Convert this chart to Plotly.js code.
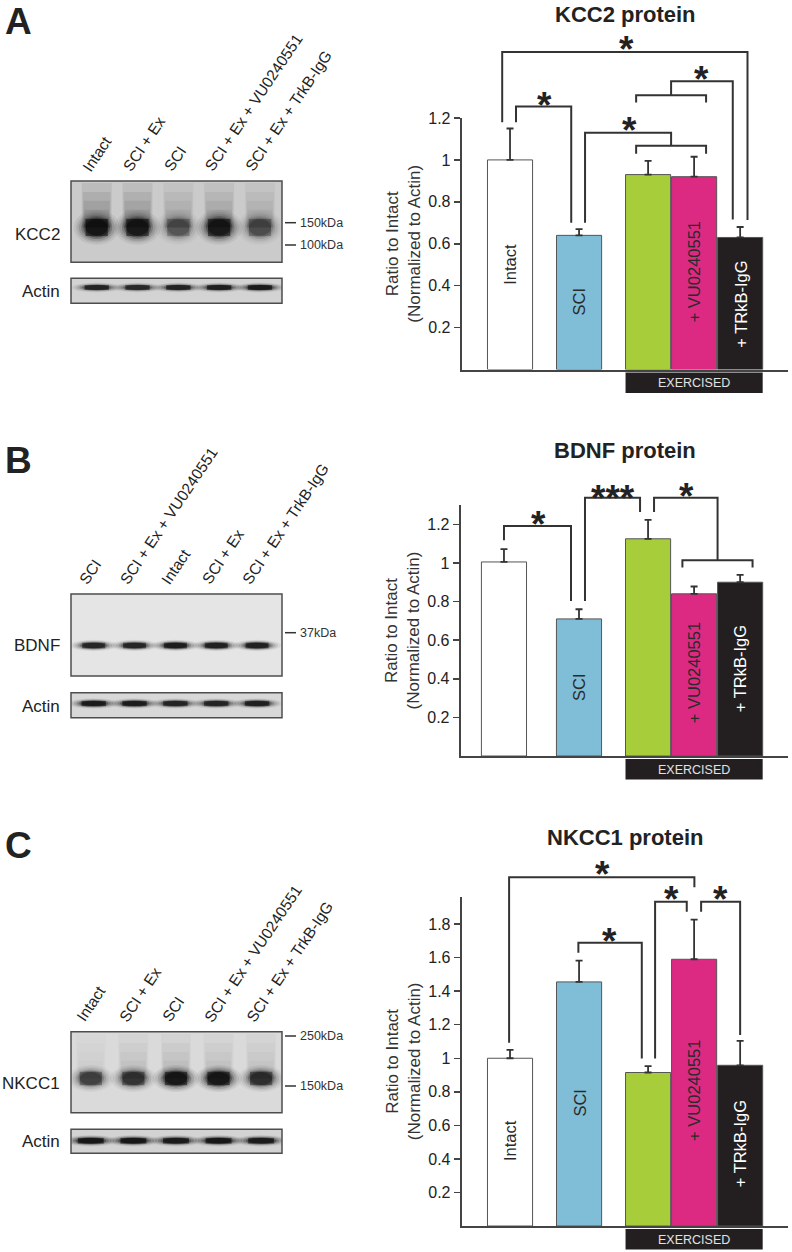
<!DOCTYPE html>
<html><head><meta charset="utf-8">
<script src="https://cdn.plot.ly/plotly-3.0.1.min.js"></script>
<style>html,body{margin:0;padding:0;background:#fff}#chart{width:792px;height:1252px}</style>
</head><body><div id="chart"></div>
<script>
// ---------------- DATA ----------------
const groups = ['Intact', 'SCI', 'SCI + Ex', 'SCI + Ex + VU0240551', 'SCI + Ex + TrkB-IgG'];
const barInnerLabels = ['Intact', 'SCI', '', '+ VU0240551', '+ TRkB-IgG'];
const barColors = ['#ffffff', '#80bdd6', '#a7cd3a', '#dc2a83', '#231f20'];

const kcc2Mean  = [1.00, 0.64, 0.93, 0.92, 0.63];
const kcc2Sem   = [0.15, 0.03, 0.065, 0.095, 0.05];
const bdnfMean  = [1.005, 0.71, 1.125, 0.84, 0.90];
const bdnfSem   = [0.066, 0.05, 0.098, 0.038, 0.038];
const nkcc1Mean = [1.00, 1.455, 0.915, 1.59, 0.958];
const nkcc1Sem  = [0.05, 0.127, 0.038, 0.236, 0.145];

const tickValsAB = [0.2, 0.4, 0.6, 0.8, 1.0, 1.2];
const tickTextAB = ['0.2', '0.4', '0.6', '0.8', '1', '1.2'];
const tickValsC  = [0.2, 0.4, 0.6, 0.8, 1.0, 1.2, 1.4, 1.6, 1.8];
const tickTextC  = ['0.2', '0.4', '0.6', '0.8', '1', '1.2', '1.4', '1.6', '1.8'];

// bar slots (x positions on the category axis)
const barPosA = [0, 1.5, 3, 4, 5];
const barPosB = [-0.13, 1.5, 3, 4, 5];
const barPosC = [0, 1.5, 3, 4, 5];

// where the rotated group names sit inside the bars (data units)
const labelYA = [0.50, 0.325, null, 0.464, 0.31];
const labelYB = [null, 0.358, null, 0.429, 0.45];
const labelYC = [0.507, 0.736, null, 0.806, 0.488];

// significance brackets: polylines [x, y] in data units
const bracketsA = [
  [[-0.17, 1.18], [-0.17, 1.515], [5.16, 1.515], [5.16, 0.713]],
  [[0.13, 1.18], [0.13, 1.255], [1.33, 1.255], [1.33, 0.70]],
  [[1.63, 0.70], [1.63, 1.13], [3.5, 1.13], [3.5, 1.067]],
  [[2.74, 1.029], [2.74, 1.067], [4.26, 1.067], [4.26, 1.029]],
  [[2.74, 1.274], [2.74, 1.308], [4.26, 1.308], [4.26, 1.274]],
  [[3.5, 1.308], [3.5, 1.375], [4.84, 1.375], [4.84, 0.716]]
];
const starsA = [[2.52, 1.565, '*'], [0.74, 1.30, '*'], [2.59, 1.177, '*'], [4.17, 1.42, '*']];

const bracketsB = [
  [[-0.13, 1.117], [-0.13, 1.191], [1.326, 1.191], [1.326, 0.803]],
  [[1.63, 0.803], [1.63, 1.338], [2.826, 1.338], [2.826, 1.264]],
  [[3.13, 1.264], [3.13, 1.338], [4.51, 1.338], [4.51, 1.014]],
  [[3.746, 0.976], [3.746, 1.014], [5.27, 1.014], [5.27, 0.976]]
];
const starsB = [[0.615, 1.238, '*'], [2.245, 1.376, '***'], [3.84, 1.385, '*']];

const bracketsC = [
  [[-0.02, 1.092], [-0.02, 2.079], [4.006, 2.079], [4.006, 2.019]],
  [[1.485, 1.629], [1.485, 1.689], [2.863, 1.689], [2.863, 0.999]],
  [[3.152, 0.999], [3.152, 1.933], [3.84, 1.933], [3.84, 1.874]],
  [[4.152, 1.874], [4.152, 1.933], [5.0, 1.933], [5.0, 1.138]]
];
const starsC = [[2.0, 2.142, '*'], [2.17, 1.745, '*'], [3.515, 1.993, '*'], [4.58, 1.993, '*']];

// western blot lanes
const lanesA = ['Intact', 'SCI + Ex', 'SCI', 'SCI + Ex + VU0240551', 'SCI + Ex + TrkB-IgG'];
const lanesB = ['SCI', 'SCI + Ex + VU0240551', 'Intact', 'SCI + Ex', 'SCI + Ex + TrkB-IgG'];
const lanesC = ['Intact', 'SCI + Ex', 'SCI', 'SCI + Ex + VU0240551', 'SCI + Ex + TrkB-IgG'];

// relative band darkness per lane
const kcc2Band   = [1.0, 0.95, 0.45, 0.95, 0.5];
const kcc2Smear  = [0.70, 0.65, 0.45, 0.50, 0.40];
const actinBandA = [0.85, 0.8, 0.85, 0.9, 0.95];
const bdnfBand   = [0.85, 0.85, 0.95, 0.9, 0.9];
const actinBandB = [0.95, 0.95, 0.85, 0.85, 0.9];
const nkcc1Band  = [0.6, 0.7, 1.0, 1.0, 0.75];
const nkcc1Smear = [0.12, 0.28, 0.32, 0.28, 0.22];
const actinBandC = [1.0, 1.0, 0.95, 1.0, 0.95];

// ---------------- LAYOUT HELPERS ----------------
const FONT = 'Liberation Sans, Arial, Helvetica, sans-serif';
const W = 792, H = 1252;
const fx = p => p / W;
const fy = p => 1 - p / H;
const axName = id => id.replace(/^x/, 'xaxis').replace(/^y/, 'yaxis');

const traces = [];
const shapes = [];
const annotations = [];
const layout = {
  width: W, height: H, margin: {l: 0, r: 0, t: 0, b: 0},
  paper_bgcolor: '#ffffff', plot_bgcolor: 'rgba(0,0,0,0)',
  showlegend: false, font: {family: FONT, color: '#222'},
  bargap: 0
};

const panels = [
  {xa: 'x', ya: 'y', xPx: [461.7, 788], yPx: [369.5, 118], xRange: [-1.05, 6.04], yMax: 1.2,
   tv: tickValsAB, tt: tickTextAB, mean: kcc2Mean, sem: kcc2Sem, pos: barPosA, labelY: labelYA,
   brackets: bracketsA, stars: starsA, title: 'KCC2 protein', titleY: 14.5, letter: 'A', letterY: 21.5},
  {xa: 'x2', ya: 'y2', xPx: [460.7, 788], yPx: [756, 505], xRange: [-1.07, 6.04], yMax: 1.3,
   tv: tickValsAB, tt: tickTextAB, mean: bdnfMean, sem: bdnfSem, pos: barPosB, labelY: labelYB,
   brackets: bracketsB, stars: starsB, title: 'BDNF protein', titleY: 450.8, letter: 'B', letterY: 460},
  {xa: 'x3', ya: 'y3', xPx: [461.7, 788], yPx: [1226, 896.7], xRange: [-1.05, 6.04], yMax: 1.963,
   tv: tickValsC, tt: tickTextC, mean: nkcc1Mean, sem: nkcc1Sem, pos: barPosC, labelY: labelYC,
   brackets: bracketsC, stars: starsC, title: 'NKCC1 protein', titleY: 837.5, letter: 'C', letterY: 845.5}
];

panels.forEach(p => {
  traces.push({
    type: 'bar', x: p.pos, y: p.mean, xaxis: p.xa, yaxis: p.ya, width: 0.98,
    marker: {color: barColors, line: {color: '#555', width: 1}},
    error_y: {type: 'data', symmetric: false, array: p.sem, arrayminus: p.sem.map(() => 0),
              color: '#333', thickness: 1.8, width: 3.5},
    hoverinfo: 'skip'
  });
  layout[axName(p.xa)] = {
    domain: [fx(p.xPx[0]), fx(p.xPx[1])], range: p.xRange, anchor: p.ya,
    showline: true, linecolor: '#444', linewidth: 2, showticklabels: false, ticks: '',
    showgrid: false, zeroline: false, fixedrange: true
  };
  layout[axName(p.ya)] = {
    domain: [fy(p.yPx[0]), fy(p.yPx[1])], range: [0, p.yMax], anchor: p.xa,
    showline: true, linecolor: '#444', linewidth: 2, ticks: 'outside', ticklen: 6,
    tickwidth: 1.5, tickcolor: '#444', tickvals: p.tv, ticktext: p.tt,
    tickfont: {size: 16, color: '#222', family: FONT},
    showgrid: false, zeroline: false, fixedrange: true,
    title: {text: 'Ratio to Intact<br>(Normalized to Actin)', font: {size: 17, color: '#333', family: FONT}, standoff: 3}
  };
  const dref = p.ya + ' domain';
  p.brackets.forEach(b => {
    shapes.push({type: 'path', xref: p.xa, yref: dref,
      path: 'M' + b.map(pt => pt[0] + ',' + (pt[1] / p.yMax)).join('L'),
      line: {color: '#333', width: 2}});
  });
  p.stars.forEach(s => {
    annotations.push({xref: p.xa, yref: dref, x: s[0], y: s[1] / p.yMax, text: '<b>' + s[2] + '</b>',
      showarrow: false, xanchor: 'center', yanchor: 'middle', yshift: -8,
      font: {size: 37, family: FONT, color: '#222'}});
  });
  p.labelY.forEach((ly, i) => {
    if (ly === null) return;
    annotations.push({xref: p.xa, yref: p.ya, x: p.pos[i], y: ly, text: barInnerLabels[i],
      textangle: -90, showarrow: false, font: {size: 16.5, family: FONT, color: i === 4 ? '#ffffff' : '#2a2a2a'}});
  });
  // EXERCISED box
  shapes.push({type: 'rect', xref: p.xa, yref: dref, x0: p.pos[2] - 0.49, x1: p.pos[4] + 0.49,
    ysizemode: 'pixel', yanchor: 0, y0: -3, y1: -23.5, fillcolor: '#231f20', line: {width: 0}});
  annotations.push({xref: p.xa, yref: dref, x: p.pos[3], y: 0, yshift: -13.5, text: 'EXERCISED',
    showarrow: false, yanchor: 'middle', font: {size: 12.5, family: FONT, color: '#e2e2e2'}});
  // chart title
  annotations.push({xref: 'paper', yref: 'paper', x: fx(625), y: fy(p.titleY), text: '<b>' + p.title + '</b>',
    showarrow: false, xanchor: 'center', yanchor: 'middle', font: {size: 22, family: FONT, color: '#222'}});
  // panel letter
  annotations.push({xref: 'paper', yref: 'paper', x: fx(3), y: fy(p.letterY), text: '<b>' + p.letter + '</b>',
    showarrow: false, xanchor: 'left', yanchor: 'middle', font: {size: 37, family: FONT, color: '#222'}});
});

// ---------------- BLOTS ----------------
const blots = [
  {xa: 'x4', ya: 'y4', range: [-0.63, 4.54], lanes: lanesA, labelTop: 181,
   boxes: [
     {name: 'KCC2', nameY: 234, top: 181, bottom: 262.3, bg: '#cbcbcb', band: kcc2Band, bandY: 227.5, rx: 15.5, ry: 11.5,
      smear: kcc2Smear, smearTop: 183},
     {name: 'Actin', nameY: 291.7, top: 278.3, bottom: 303.3, bg: '#d3d3d3', band: actinBandA, bandY: 287.5, rx: 17, ry: 3.3}
   ],
   markers: [['150kDa', 222.7], ['100kDa', 245]]},
  {xa: 'x5', ya: 'y5', range: [-0.556, 4.61], lanes: lanesB, labelTop: 594,
   boxes: [
     {name: 'BDNF', nameY: 645.7, top: 594, bottom: 676, bg: '#e5e5e5', band: bdnfBand, bandY: 645.5, rx: 16, ry: 3.8},
     {name: 'Actin', nameY: 706.7, top: 692.7, bottom: 717.7, bg: '#d8d8d8', band: actinBandB, bandY: 703.5, rx: 17, ry: 3.5}
   ],
   markers: [['37kDa', 632.7]]},
  {xa: 'x6', ya: 'y6', range: [-0.465, 4.49], lanes: lanesC, labelTop: 1031.7,
   boxes: [
     {name: 'NKCC1', nameY: 1083.3, top: 1031.7, bottom: 1112.7, bg: '#dadada', band: nkcc1Band, bandY: 1078.5, rx: 15.5, ry: 9,
      smear: nkcc1Smear, smearTop: 1034},
     {name: 'Actin', nameY: 1141.7, top: 1129.3, bottom: 1153.3, bg: '#d3d3d3', band: actinBandC, bandY: 1140.7, rx: 18, ry: 3.8}
   ],
   markers: [['250kDa', 1036], ['150kDa', 1086]]}
];

const bandLayers = [{s: 1.5, o: 0.06}, {s: 1.32, o: 0.09}, {s: 1.16, o: 0.13}, {s: 1.0, o: 0.2}, {s: 0.86, o: 0.3}, {s: 0.72, o: 0.45}];

blots.forEach(b => {
  traces.push({type: 'scatter', x: [0], y: [0], xaxis: b.xa, yaxis: b.ya, mode: 'markers',
    marker: {opacity: 0}, hoverinfo: 'skip'});
  layout[axName(b.xa)] = {domain: [fx(71), fx(282)], range: b.range, anchor: b.ya, visible: false, fixedrange: true};
  layout[axName(b.ya)] = {domain: [fy(b.boxes[1].bottom), fy(b.boxes[0].top)], range: [0, 1], anchor: b.xa, visible: false, fixedrange: true};

  b.boxes.forEach(bx => {
    shapes.push({type: 'rect', xref: 'paper', yref: 'paper', x0: fx(71), x1: fx(282), y0: fy(bx.bottom), y1: fy(bx.top),
      fillcolor: bx.bg, line: {width: 0}});
    bx.band.forEach((inten, i) => {
      if (bx.smear) {
        const depth = bx.bandY - bx.smearTop;
        [[0, 15], [0.2, 14], [0.4, 13], [0.6, 12.5], [0.8, 12]].forEach(f => {
          shapes.push({type: 'rect', xref: b.xa, xsizemode: 'pixel', xanchor: i, x0: -f[1], x1: f[1],
            yref: 'paper', y0: fy(bx.bandY), y1: fy(bx.smearTop + depth * f[0]),
            fillcolor: 'rgba(0,0,0,' + (0.1 * bx.smear[i]).toFixed(3) + ')', line: {width: 0}});
        });
      }
      bandLayers.forEach(l => {
        shapes.push({type: 'circle', xref: b.xa, xsizemode: 'pixel', xanchor: i,
          x0: -bx.rx * l.s, x1: bx.rx * l.s,
          yref: 'paper', ysizemode: 'pixel', yanchor: fy(bx.bandY), y0: -bx.ry * l.s, y1: bx.ry * l.s,
          fillcolor: 'rgba(0,0,0,' + (l.o * inten).toFixed(3) + ')', line: {width: 0}});
      });
      shapes.push({type: 'rect', xref: b.xa, xsizemode: 'pixel', xanchor: i,
        x0: -bx.rx * 0.72, x1: bx.rx * 0.72,
        yref: 'paper', ysizemode: 'pixel', yanchor: fy(bx.bandY), y0: -bx.ry * 0.75, y1: bx.ry * 0.75,
        fillcolor: 'rgba(0,0,0,' + (0.5 * inten).toFixed(3) + ')', line: {width: 0}});
    });
    shapes.push({type: 'rect', xref: 'paper', yref: 'paper', x0: fx(71), x1: fx(282), y0: fy(bx.bottom), y1: fy(bx.top),
      fillcolor: 'rgba(0,0,0,0)', line: {color: '#4d4d4d', width: 1.5}});
    annotations.push({xref: 'paper', yref: 'paper', x: fx(62), y: fy(bx.nameY), text: bx.name, showarrow: false,
      xanchor: 'right', yanchor: 'middle', font: {size: 17, family: FONT, color: '#222'}});
  });

  b.markers.forEach(m => {
    shapes.push({type: 'line', xref: 'paper', yref: 'paper', x0: fx(285), x1: fx(296), y0: fy(m[1]), y1: fy(m[1]),
      line: {color: '#333', width: 1.5}});
    annotations.push({xref: 'paper', yref: 'paper', x: fx(297.5), y: fy(m[1]), text: m[0], showarrow: false,
      xanchor: 'left', yanchor: 'middle', font: {size: 12.5, family: FONT, color: '#333'}});
  });

  b.lanes.forEach((name, i) => {
    annotations.push({xref: b.xa, yref: 'paper', x: i, xshift: -20.5, y: fy(b.labelTop - 4.3), text: name,
      textangle: -56, showarrow: false, xanchor: 'left', yanchor: 'bottom',
      font: {size: 15.5, family: FONT, color: '#222'}});
  });
});

layout.shapes = shapes;
layout.annotations = annotations;

Plotly.newPlot('chart', traces, layout, {staticPlot: true, displayModeBar: false});
</script>
</body></html>
